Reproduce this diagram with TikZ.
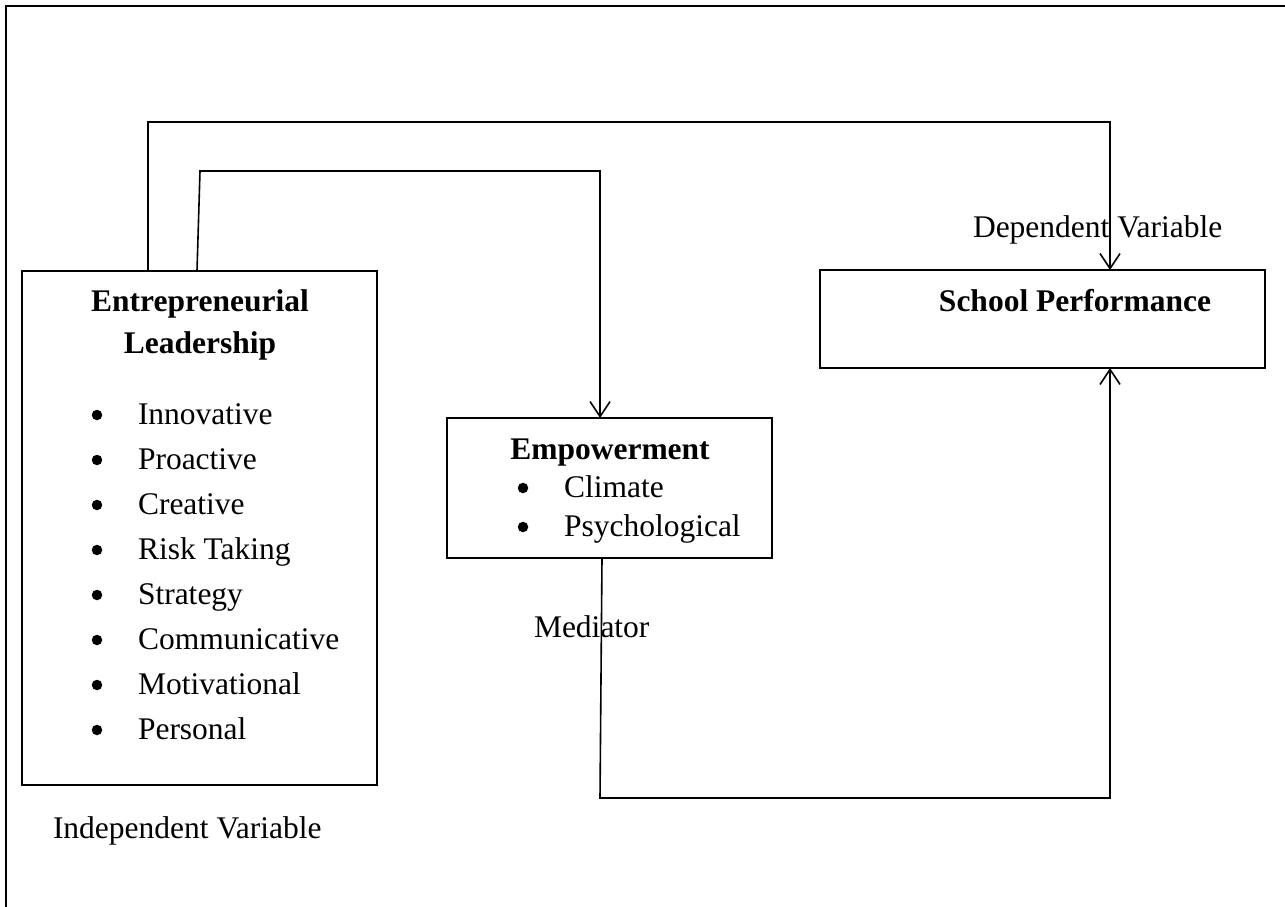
\documentclass[tikz,border=0pt]{standalone}
\usepackage{fontspec}
\setmainfont{Liberation Serif}
\usetikzlibrary{arrows.meta,calc}
\begin{document}
\begin{tikzpicture}[x=1pt,y=-1pt,
  box/.style={draw,line width=2pt,rectangle,inner sep=0pt,outer sep=0pt,anchor=north west},
  conn/.style={line width=1.6pt},
  arr/.style={conn,-{Straight Barb[length=15pt,width=20pt,line width=1.6pt]}},
  txt/.style={inner sep=0pt,outer sep=0pt,font=\fontsize{31.5}{38}\selectfont},
  ttl/.style={inner sep=0pt,outer sep=0pt,font=\fontsize{31.5}{38}\selectfont\bfseries},
  dot/.style={circle,fill=black,draw=none,inner sep=0pt,minimum size=10.5pt},
]
\useasboundingbox (0,0) rectangle (1285,907);
% outer frame
\draw[line width=2.5pt] (1285,6) -- (6,6) -- (6,907);
% boxes
\node[box,minimum width=355pt,minimum height=514pt] (el) at (22,271) {};
\node[box,minimum width=325pt,minimum height=140pt] (emp) at (447,418) {};
\node[box,minimum width=445pt,minimum height=98pt] (sp) at (820,270) {};
% texts in Entrepreneurial Leadership
\node[ttl,anchor=base] (elt1) at (200,311) {Entrepreneurial};
\node[ttl,anchor=base] (elt2) at (200,353) {Leadership};
\foreach \t [count=\i] in {Innovative,Proactive,Creative,Risk Taking,Strategy,Communicative,Motivational,Personal} {
  \node[dot] (elb\i) at (97,{415+45*(\i-1)}) {};
  \node[txt,anchor=base west] (elit\i) at (138,{424+45*(\i-1)}) {\t};
}
% Empowerment
\node[ttl,anchor=base] (empt) at (610,459) {Empowerment};
\node[dot] (empb1) at (523,488) {};
\node[txt,anchor=base west] (empit1) at (564,497) {Climate};
\node[dot] (empb2) at (523,527) {};
\node[txt,anchor=base west] (empit2) at (564,536) {Psychological};
% School Performance
\node[ttl,anchor=base] (spt) at (1075,311) {School Performance};
% labels
\node[txt,anchor=base west] (dv) at (973,237) {Dependent Variable};
\node[txt,anchor=base west] (med) at (534,637) {Mediator};
\node[txt,anchor=base west] (iv) at (53,838) {Independent Variable};
% connectors
\coordinate (h1) at (0,122);
\coordinate (elo) at ($(el.north west)+(126,0)$);
\coordinate (spi) at ($(sp.north west)+(290,0)$);
\draw[arr] (elo) -- (elo |- h1) -| (spi);
\coordinate (elin) at ($(el.north west)+(175,0)$);
\coordinate (empi) at ($(emp.north west)+(153,0)$);
\draw[arr] (elin) -- ($(elin)+(3,-100)$) -| (empi);
\coordinate (empo) at ($(emp.south west)+(155,0)$);
\coordinate (spo) at ($(sp.south west)+(290,0)$);
\draw[arr] (empo) -- ($(empo)+(-2,240)$) -| (spo);
\end{tikzpicture}
\end{document}
